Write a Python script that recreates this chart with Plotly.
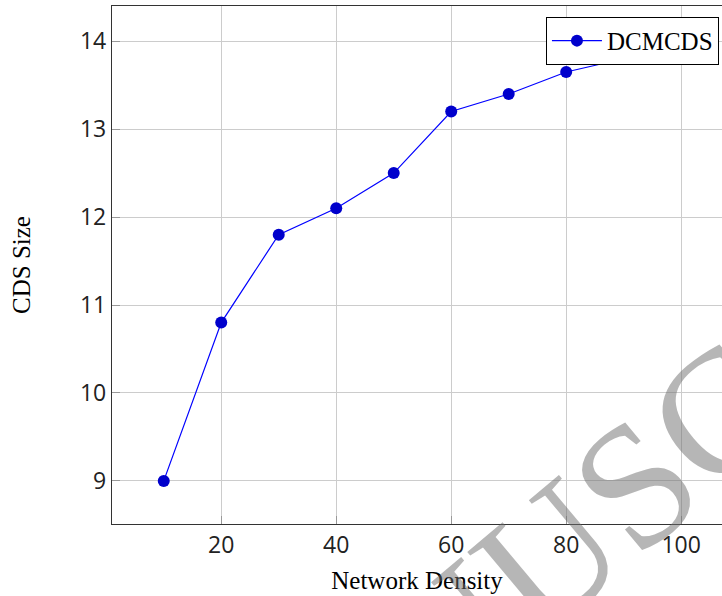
import plotly.graph_objects as go

density = [10, 20, 30, 40, 50, 60, 70, 80, 90, 100]
cds_size = [9.0, 10.8, 11.8, 12.1, 12.5, 13.2, 13.4, 13.65, 13.8, 13.92]
x_ticks = [20, 40, 60, 80, 100]
y_ticks = [9, 10, 11, 12, 13, 14]

fig = go.Figure()
fig.add_trace(go.Scatter(
    x=density, y=cds_size, mode="lines+markers", name="DCMCDS",
    line=dict(color="#0000ff", width=1.2),
    marker=dict(color="#0000cc", size=12, line=dict(width=0)),
))

axis_common = dict(
    showline=True, linecolor="#333333", linewidth=1.3,
    showgrid=True, gridcolor="#cccccc", gridwidth=1,
    ticks="inside", ticklen=8, tickcolor="#999999", tickwidth=1,
    zeroline=False,
    tickfont=dict(family="Open Sans", size=23, color="#222222"),
    title_font=dict(family="Liberation Serif", size=25, color="#000000"),
)

fig.update_layout(
    width=722, height=596,
    margin=dict(l=112, r=0, t=6, b=72),
    plot_bgcolor="white", paper_bgcolor="white",
    showlegend=True,
    legend=dict(
        x=0.995, y=0.979, xanchor="right", yanchor="top",
        bordercolor="#000000", borderwidth=1, bgcolor="white",
        itemwidth=50,
        font=dict(family="Liberation Serif", size=25, color="#000000"),
    ),
    xaxis=dict(axis_common, range=[1, 107.1], tickvals=x_ticks,
               mirror=True, title=dict(text="Network Density", standoff=12)),
    yaxis=dict(axis_common, range=[8.51, 14.40], tickvals=y_ticks,
               mirror=False, title=dict(text="CDS Size", standoff=42)),
)

fig.add_annotation(
    text="ACCEPTED MANUSCRIPT", xref="paper", yref="paper",
    x=0.235, y=-0.538, xanchor="center", yanchor="middle",
    textangle=-40, showarrow=False,
    font=dict(family="Liberation Serif", size=176, color="rgba(110,110,110,0.5)"),
)

fig.write_html("out.html", config={"displayModeBar": False},
               post_script="document.body.style.margin='0';")
